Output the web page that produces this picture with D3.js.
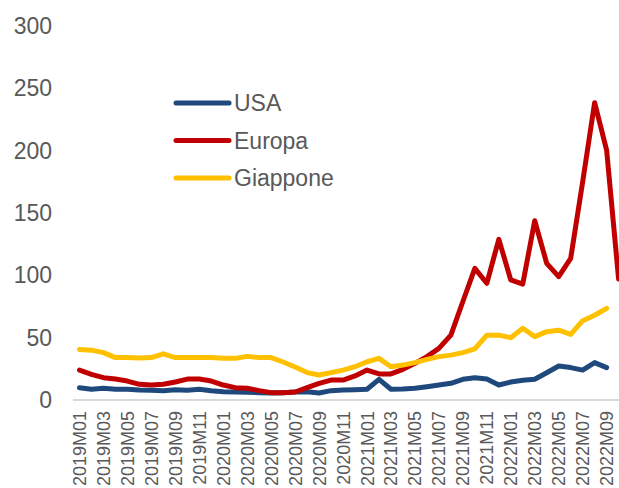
<!DOCTYPE html>
<html>
<head>
<meta charset="utf-8">
<script src="https://cdn.jsdelivr.net/npm/d3@7"></script>
<style>
  body { margin: 0; background: #fff; }
  svg { display: block; font-family: "Liberation Sans", Arial, sans-serif; }
  .tick-label { fill: #595959; }
</style>
</head>
<body>
<div id="chart"></div>
<script>
// months 2019M01 .. 2022M10
const months = [];
for (let y = 2019; y <= 2022; y++) {
  for (let m = 1; m <= 12; m++) {
    if (y === 2022 && m > 10) break;
    months.push(`${y}M${String(m).padStart(2, "0")}`);
  }
}

const yTicks = [0, 50, 100, 150, 200, 250, 300];

const usa = [9.9, 8.6, 9.4, 8.6, 8.6, 8, 7.8, 7.5, 8.3, 7.8, 8.6, 7.5,
  6.7, 6.4, 6.2, 5.9, 5.6, 5.9, 6.4, 6.7, 5.6, 7.5, 8, 8.3,
  8.6, 16.6, 8.6, 8.8, 9.4, 10.7, 12, 13.4, 16.6, 17.9, 16.8, 12,
  14.4, 15.8, 16.6, 21.9, 27.3, 26, 24, 30, 26];

const europa = [24, 20.6, 17.9, 16.8, 15.2, 12.6, 12, 12.6, 14.4, 16.8, 16.8, 15.2,
  12, 9.9, 9.4, 7.5, 5.9, 5.9, 6.4, 9.9, 13.4, 16, 16, 19.3,
  24, 20.9, 20.9, 24.6, 29.4, 34.8, 41.4, 52, 79, 105.6, 93.6, 128.9,
  96.3, 93, 143.8, 109.6, 99, 113.6, 175, 238.5, 200.5, 97];

const giappone = [40.5, 40, 38, 34, 34, 33.7, 34, 37, 34, 34, 34, 34,
  33.4, 33.4, 35, 34, 34, 30.5, 26.5, 22, 20, 22, 24, 26.7,
  30.7, 33.4, 26.7, 28, 30, 32.6, 34.8, 36, 38, 41, 52, 52,
  50, 57.5, 50.8, 54.8, 56, 52.7, 63.6, 68, 73.5];

const series = [
  { name: "USA", values: usa, color: "#1f497d" },
  { name: "Europa", values: europa, color: "#c00000" },
  { name: "Giappone", values: giappone, color: "#ffc000" }
];

const width = 619, height = 488;

const svg = d3.select("#chart").append("svg")
  .attr("width", width)
  .attr("height", height);

const x = d3.scalePoint()
  .domain(months)
  .range([79.5, 79.5 + 11.98 * (months.length - 1)]);

const y = d3.scaleLinear()
  .domain([0, 300])
  .range([400, 26]);

// y labels
svg.append("g").selectAll("text")
  .data(yTicks)
  .join("text")
  .attr("class", "tick-label")
  .attr("x", 52)
  .attr("y", (d) => y(d))
  .attr("dy", "0.35em")
  .attr("text-anchor", "end")
  .attr("font-size", 23)
  .text((d) => d);

// baseline
svg.append("line")
  .attr("x1", 73)
  .attr("x2", width)
  .attr("y1", y(0))
  .attr("y2", y(0))
  .attr("stroke", "#d9d9d9")
  .attr("stroke-width", 2);

// x labels, every other month
svg.append("g").selectAll("text")
  .data(months.filter((d, i) => i % 2 === 0))
  .join("text")
  .attr("class", "tick-label")
  .attr("transform", (d) => `translate(${x(d)}, 411) rotate(-90)`)
  .attr("dy", "0.36em")
  .attr("text-anchor", "end")
  .attr("font-size", 18)
  .text((d) => d);

const line = d3.line()
  .x((d, i) => x(months[i]))
  .y((d) => y(d));

svg.append("g").selectAll("path")
  .data(series)
  .join("path")
  .attr("d", (d) => line(d.values))
  .attr("fill", "none")
  .attr("stroke", (d) => d.color)
  .attr("stroke-width", 5)
  .attr("stroke-linejoin", "round")
  .attr("stroke-linecap", "round");

// legend
const legend = svg.append("g").selectAll("g")
  .data(series)
  .join("g")
  .attr("transform", (d, i) => `translate(0, ${103 + i * 37.5})`);

legend.append("line")
  .attr("x1", 176)
  .attr("x2", 229)
  .attr("stroke", (d) => d.color)
  .attr("stroke-width", 5)
  .attr("stroke-linecap", "round");

legend.append("text")
  .attr("class", "tick-label")
  .attr("x", 234)
  .attr("dy", "0.35em")
  .attr("font-size", 23)
  .text((d) => d.name);
</script>
</body>
</html>
